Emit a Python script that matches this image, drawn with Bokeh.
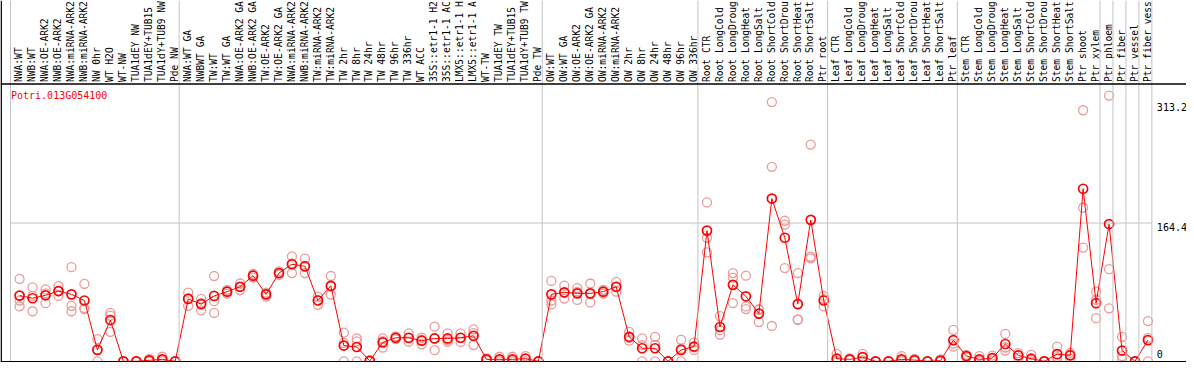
import math
from bokeh.plotting import figure
from bokeh.models import Range1d, Span, ColumnDataSource
from bokeh.core.properties import value
from bokeh.embed import file_html
from bokeh.resources import INLINE

# ---------------- data ----------------
gene = "Potri.013G054100"

samples = [
    # group 1
    "NWA:WT", "NWB:WT", "NWA:OE-ARK2", "NWB:OE-ARK2", "NWA:miRNA-ARK2", "NWB:miRNA-ARK2",
    "NW 0hr", "WT H2O", "WT-NW", "TUA1dEY NW", "TUA1dEY+TUB15", "TUA1dY+TUB9 NW", "Pde NW",
    # group 2
    "NWA:WT GA", "NWBWT GA", "TW:WT", "TW:WT GA", "NWA:OE-ARK2 GA", "NWB:OE-ARK2 GA",
    "TW:OE-ARK2", "TW:OE-ARK2 GA", "NWA:miRNA-ARK2", "NWB:miRNA-ARK2", "TW:miRNA-ARK2",
    "TW:miRNA-ARK2", "TW 2hr", "TW 8hr", "TW 24hr", "TW 48hr", "TW 96hr", "TW 336hr",
    "WT ACC", "35S::etr1-1 H2", "35S::etr1-1 AC", "LMX5::etr1-1 H", "LMX5::etr1-1 A",
    "WT-TW", "TUA1dEY TW", "TUA1dEY+TUB15", "TUA1dY+TUB9 TW", "Pde TW",
    # group 3
    "OW:WT", "OW:WT GA", "OW:OE-ARK2", "OW:OE-ARK2 GA", "OW:miRNA-ARK2", "OW:miRNA-ARK2",
    "OW 2hr", "OW 8hr", "OW 24hr", "OW 48hr", "OW 96hr", "OW 336hr",
    # group 4
    "Root CTR", "Root LongCold", "Root LongDroug", "Root LongHeat", "Root LongSalt",
    "Root ShortCold", "Root ShortDrou", "Root ShortHeat", "Root ShortSalt", "Ptr root",
    # group 5
    "Leaf CTR", "Leaf LongCold", "Leaf LongDroug", "Leaf LongHeat", "Leaf LongSalt",
    "Leaf ShortCold", "Leaf ShortDrou", "Leaf ShortHeat", "Leaf ShortSalt", "Ptr leaf",
    # group 6
    "Stem CTR", "Stem LongCold", "Stem LongDroug", "Stem LongHeat", "Stem LongSalt",
    "Stem ShortCold", "Stem ShortDrou", "Stem ShortHeat", "Stem ShortSalt", "Ptr shoot",
    "Ptr xylem",
    # single-sample groups
    "Ptr phloem", "Ptr fiber", "Ptr vessel", "Ptr fiber vess",
]

group_sizes = [13, 28, 12, 10, 10, 11, 1, 1, 1, 1]

means = [
    78.1, 75.0, 78.5, 83.5, 79.6, 72.3, 13.5, 49.0, 0.0, 0.0, 1.2, 2.3, 0.0,
    74.2, 68.0, 77.7, 82.8, 88.6, 101.8, 79.6, 104.9, 115.4, 113.1, 72.3, 89.8,
    18.7, 17.0, 0.5, 22.5, 28.0, 28.0, 24.5, 27.2, 27.2, 28.0, 30.3, 2.3, 2.3, 2.3, 3.1, 0.0,
    79.6, 82.0, 80.8, 80.8, 82.8, 88.6, 29.1, 15.5, 15.5, 0.0, 13.5, 17.5,
    155.4, 40.8, 90.9, 77.3, 56.7, 193.5, 146.9, 68.0, 168.2, 72.3,
    3.1, 2.3, 5.0, 0.0, 0.0, 2.3, 1.5, 0.0, 0.8, 25.2,
    6.2, 2.3, 3.8, 20.6, 7.0, 3.1, 0.0, 8.5, 7.0, 205.2, 69.1,
    163.2, 12.8, 0.0, 25.2,
]

rep1 = [
    97.9, 87.8, 85.5, 89.3, 111.9, 92.1, 26.4, 57.5, 0.0, 0.0, 3.0, 5.4, 0.0,
    81.6, 74.2, 101.4, 85.0, 92.5, 104.0, 81.6, 107.0, 124.8, 122.0, 76.9, 101.4,
    34.2, 27.2, 1.5, 27.2, 29.5, 33.3, 28.0, 41.2, 33.3, 33.3, 38.0, 3.5, 5.4, 5.4, 6.2, 0.0,
    95.6, 90.1, 87.0, 92.5, 85.0, 94.4, 35.0, 27.2, 29.1, 0.0, 25.6, 22.5,
    188.9, 53.6, 104.9, 101.8, 62.0, 308.2, 167.1, 104.9, 257.7, 77.7,
    8.9, 3.5, 8.9, 0.0, 0.0, 6.2, 3.0, 0.0, 2.4, 37.3,
    7.7, 6.2, 6.8, 32.6, 9.7, 7.7, 0.0, 17.5, 10.0, 298.5, 82.8,
    316.0, 29.1, 0.0, 47.8,
]

rep2 = [
    72.3, 77.7, 80.8, 83.5, 66.0, 63.3, 14.1, 54.3, 0.0, 0.0, 0.5, 1.5, 0.0,
    75.0, 69.2, 71.5, 83.0, 88.6, 101.8, 80.2, 104.9, 116.5, 112.4, 72.8, 88.7,
    21.9, 23.8, 0.0, 24.0, 28.0, 27.4, 25.3, 27.2, 25.3, 27.7, 33.5, 2.3, 1.5, 1.5, 3.1, 0.0,
    72.3, 81.3, 82.4, 80.0, 82.8, 88.6, 27.8, 19.3, 19.4, 0.0, 15.0, 16.5,
    146.9, 37.0, 99.5, 65.3, 61.3, 231.2, 162.4, 49.7, 124.3, 74.0,
    0.4, 2.3, 5.0, 0.0, 0.0, 0.7, 1.5, 0.0, 0.0, 21.0,
    6.2, 0.7, 3.8, 16.4, 7.0, 1.6, 0.0, 5.0, 7.9, 182.6, 73.2,
    109.6, 6.2, 0.0, 27.8,
]

rep3 = [
    65.3, 59.5, 69.1, 77.7, 59.5, 62.1, 0.0, 35.0, 0.0, 0.0, 0.0, 0.0, 0.0,
    66.0, 60.6, 57.5, 80.4, 84.7, 99.6, 77.0, 102.8, 104.9, 104.9, 67.2, 79.3,
    0.0, 0.0, 0.0, 16.3, 26.5, 23.3, 20.2, 13.2, 23.0, 23.0, 19.4, 1.1, 0.0, 0.0, 0.0, 0.0,
    67.6, 74.6, 73.0, 70.0, 80.6, 82.8, 24.5, 0.0, 0.0, 0.0, 0.0, 13.5,
    129.4, 31.8, 69.1, 62.1, 46.6, 42.0, 110.8, 49.4, 122.4, 65.3,
    0.0, 1.1, 1.1, 0.0, 0.0, 0.0, 0.0, 0.0, 0.0, 17.5,
    4.7, 0.0, 0.8, 12.8, 4.3, 0.0, 0.0, 3.1, 3.1, 135.2, 51.3,
    63.0, 3.1, 0.0, 0.0,
]

y_tick_values = [313.2, 164.4, 0.0]
y_tick_labels = ["313.2", "164.4", "0"]
grid_values = [164.4]

# ---------------- layout (pixels) ----------------
W, H = 1186, 362
COL = 12.97        # px per sample column
X0PX = 10.0        # px position of the first column boundary
Y0PX = 360.8       # px (from top) of value 0
PXU = 0.841        # px per expression unit
HEADER_PX = 83.5   # header rule
LABEL_PX = 81.5    # bottom of rotated sample labels
PT_OFF = 0.7       # point position inside a column
LAB_OFF = 0.64     # label position inside a column
TICK_DY = [9, 4, -7]  # px shift (down) of right-hand value labels


def fy(px):
    return (Y0PX - px) / PXU


def fx(px):
    return (px - X0PX) / COL


p = figure(
    width=W, height=H,
    x_range=Range1d(fx(0), fx(W)),
    y_range=Range1d(fy(H), fy(0)),
    toolbar_location=None, output_backend="svg",
    x_axis_location=None, y_axis_location=None,
    min_border=0, outline_line_color=None,
    background_fill_color="white", border_fill_color="white",
)
p.xgrid.visible = False
p.ygrid.visible = False

n = len(samples)
xs = [i + PT_OFF for i in range(n)]

# group boundaries
bounds = [0]
for g in group_sizes:
    bounds.append(bounds[-1] + g)
for b in bounds:
    p.add_layout(Span(location=b, dimension="height", line_color="#c4c4c4", line_width=1))

# horizontal grid
for gv in grid_values:
    p.segment(x0=[bounds[0]], x1=[bounds[-1]], y0=[gv], y1=[gv], line_color="#c4c4c4", line_width=1)

# frame rules
p.add_layout(Span(location=fy(HEADER_PX), dimension="width", line_color="black", line_width=1.5))
p.add_layout(Span(location=fy(Y0PX + 0.5), dimension="width", line_color="black", line_width=1.5))
p.add_layout(Span(location=fx(0.7), dimension="height", line_color="black", line_width=1.5))

# replicates
rx = xs * 3
ry = rep1 + rep2 + rep3
p.scatter(x=rx, y=ry, marker="circle", size=9, fill_color=None,
          line_color="#ec9a9a", line_width=1.3)

# mean line + points
p.line(x=xs, y=means, line_color="#ff0000", line_width=1)
p.scatter(x=xs, y=means, marker="circle", size=9, fill_color=None,
          line_color="#ff0000", line_width=1.7)

# sample labels (rotated)
lab_src = ColumnDataSource(dict(x=[i + LAB_OFF for i in range(n)], y=[fy(LABEL_PX)] * n, text=samples))
p.text(x="x", y="y", text="text", source=lab_src, angle=math.pi / 2,
       text_font=value("DejaVu Sans Mono"), text_font_size="9.6px",
       text_align="left", text_baseline="middle", text_color="black")

# gene name
p.text(x=[fx(X0PX + 0.5)], y=[fy(95.0)], text=[gene],
       text_font=value("DejaVu Sans Mono"), text_font_size="10px",
       text_align="left", text_baseline="middle", text_color="#ff0000")

# right-hand value labels
p.text(x=[bounds[-1] + 5.0 / COL] * len(y_tick_values),
       y=[v - d / PXU for v, d in zip(y_tick_values, TICK_DY)], text=y_tick_labels,
       text_font=value("DejaVu Sans Mono"), text_font_size="10px",
       text_align="left", text_baseline="middle", text_color="black")

open("out.html", "w").write(file_html(p, INLINE))
